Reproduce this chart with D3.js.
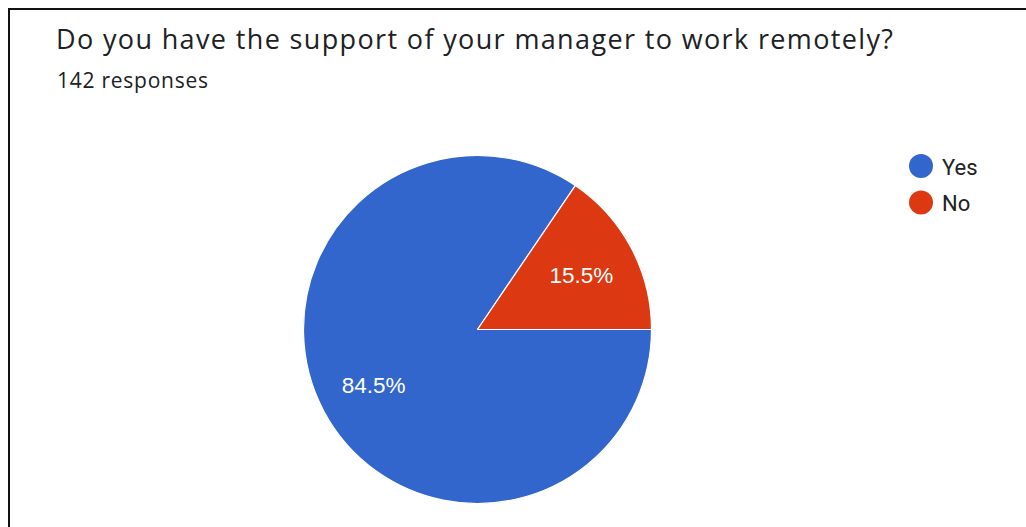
<!DOCTYPE html>
<html>
<head>
<meta charset="utf-8">
<script src="https://cdn.jsdelivr.net/npm/d3@7"></script>
<style>
  html, body { margin: 0; padding: 0; background: #fff; }
  svg { display: block; }
</style>
</head>
<body>
<svg id="chart" width="1026" height="527"></svg>
<script>
// Survey answers
const categories = ["Yes", "No"];
const shares = [84.5, 15.5];
const sliceColors = ["#3366cc", "#dc3912"];
const titleText = "Do you have the support of your manager to work remotely?";
const subtitleText = "142 responses";

const svg = d3.select("#chart");
const W = 1026, H = 527;

svg.append("rect").attr("width", W).attr("height", H).attr("fill", "#fff");

// frame: top and left rules
svg.append("line").attr("x1", 9).attr("x2", W).attr("y1", 9).attr("y2", 9)
  .attr("stroke", "#111").attr("stroke-width", 2);
svg.append("line").attr("x1", 9).attr("x2", 9).attr("y1", 8).attr("y2", H)
  .attr("stroke", "#111").attr("stroke-width", 2);

// heading, stretched to the wide heading face's run length
svg.append("text")
  .attr("x", 56).attr("y", 48.5)
  .attr("font-family", "'Open Sans', Roboto, sans-serif")
  .attr("font-size", 27)
  .attr("fill", "#202124")
  .attr("textLength", 837)
  .attr("lengthAdjust", "spacing")
  .text(titleText);

svg.append("text")
  .attr("x", 57).attr("y", 88)
  .attr("font-family", "'Open Sans', Roboto, sans-serif")
  .attr("font-size", 21)
  .attr("fill", "#202124")
  .attr("textLength", 151)
  .attr("lengthAdjust", "spacing")
  .text(subtitleText);

// pie
const cx = 477.5, cy = 329.5, R = 174;
const color = d3.scaleOrdinal().domain(categories).range(sliceColors);
const data = categories.map((c, i) => ({ label: c, value: shares[i] }));

const pie = d3.pie()
  .sort(null)
  .value(d => d.value)
  .startAngle(Math.PI / 2)
  .endAngle(Math.PI / 2 + 2 * Math.PI);

const arc = d3.arc().innerRadius(0).outerRadius(R);
const labelArc = d3.arc().innerRadius(R * 0.675).outerRadius(R * 0.675);

const g = svg.append("g").attr("transform", `translate(${cx},${cy})`);
const arcs = pie(data);

g.selectAll("path.slice")
  .data(arcs)
  .join("path")
  .attr("class", "slice")
  .attr("d", arc)
  .attr("fill", d => color(d.data.label))
  .attr("stroke", "#fff")
  .attr("stroke-width", 1.2)
  .attr("stroke-linejoin", "round");

g.selectAll("text.pct")
  .data(arcs)
  .join("text")
  .attr("class", "pct")
  .attr("transform", d => `translate(${labelArc.centroid(d)})`)
  .attr("text-anchor", "middle")
  .attr("dy", "0.36em")
  .attr("font-family", "Arial, 'Liberation Sans', sans-serif")
  .attr("font-size", 22.5)
  .attr("fill", "#fff")
  .text(d => d.data.value.toFixed(1) + "%");

// legend
const legend = svg.append("g");
const rows = legend.selectAll("g")
  .data(categories)
  .join("g")
  .attr("transform", (d, i) => `translate(921,${166 + i * 36.5})`);

rows.append("circle").attr("r", 12).attr("fill", d => color(d));
rows.append("text")
  .attr("x", 21).attr("y", 8.5)
  .attr("font-family", "Roboto, Arial, sans-serif")
  .attr("font-size", 22)
  .attr("fill", "#222")
  .text(d => d);
</script>
</body>
</html>
